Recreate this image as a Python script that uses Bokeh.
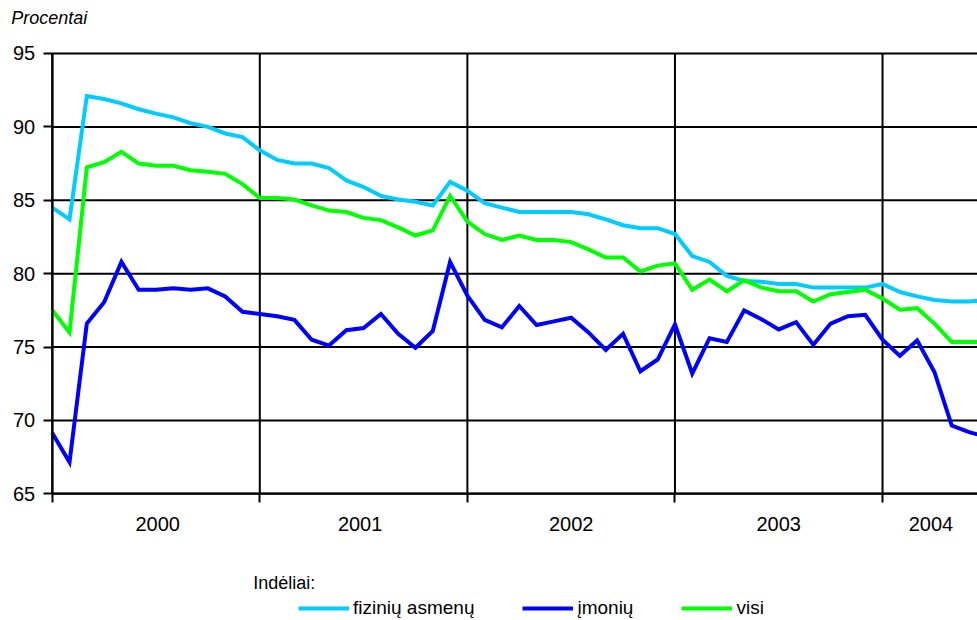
from bokeh.plotting import figure
from bokeh.models import Range1d, FixedTicker, Legend, LegendItem, Label
from bokeh.embed import file_html
from bokeh.resources import INLINE

# ---- data (monthly index) ----
fiziniu_asmenu = [84.5, 83.7, 92.1, 91.9, 91.6, 91.2, 90.9, 90.65, 90.25, 90.0, 89.55, 89.3,
                  88.4, 87.75, 87.5, 87.5, 87.2, 86.35, 85.9, 85.3, 85.05, 84.9, 84.65, 86.25,
                  85.65, 84.8, 84.5, 84.2, 84.2, 84.2, 84.2, 84.05, 83.7, 83.3, 83.1, 83.1,
                  82.7, 81.2, 80.8, 79.85, 79.5, 79.45, 79.3, 79.3, 79.05, 79.05, 79.05, 79.05,
                  79.3, 78.75, 78.45, 78.2, 78.1, 78.1, 78.2]
imoniu = [69.15, 67.15, 76.6, 78.05, 80.8, 78.9, 78.9, 79.0, 78.9, 79.0, 78.45, 77.4,
          77.25, 77.1, 76.85, 75.5, 75.1, 76.15, 76.3, 77.25, 75.9, 74.95, 76.1, 80.8,
          78.5, 76.85, 76.35, 77.8, 76.5, 76.75, 77.0, 76.0, 74.8, 75.9, 73.35, 74.15,
          76.55, 73.2, 75.6, 75.35, 77.5, 76.9, 76.2, 76.7, 75.15, 76.6, 77.1, 77.2,
          75.5, 74.4, 75.45, 73.3, 69.65, 69.2, 68.9]
visi = [77.5, 76.0, 87.25, 87.6, 88.3, 87.5, 87.35, 87.35, 87.05, 86.95, 86.8, 86.1,
        85.15, 85.15, 85.05, 84.65, 84.3, 84.2, 83.8, 83.65, 83.15, 82.6, 82.95, 85.3,
        83.55, 82.7, 82.3, 82.6, 82.3, 82.3, 82.15, 81.65, 81.1, 81.1, 80.15, 80.55,
        80.7, 78.9, 79.6, 78.8, 79.55, 79.05, 78.8, 78.8, 78.1, 78.6, 78.75, 78.9,
        78.3, 77.55, 77.65, 76.6, 75.35, 75.35, 75.35]
months = list(range(len(visi)))

years = ["2000", "2001", "2002", "2003", "2004"]
year_starts = [0, 12, 24, 36, 48]
year_label_pos = [6.1, 17.8, 30.0, 42.0, 50.8]
y_ticks = [65, 70, 75, 80, 85, 90, 95]

series_names = ["fizinių asmenų", "įmonių", "visi"]
series_colors = ["#00CCFF", "#0000FF", "#00FF00"]
legend_heading = "Indėliai:"
y_unit = "Procentai"

FONT = "Liberation Sans"

# whole canvas is the plotting frame; axes are pinned inside it
X_START, X_END = -2.99, 53.49
Y_BOTTOM, Y_TOP = 56.37, 98.61
Y_MIN, Y_MAX = y_ticks[0], y_ticks[-1]

p = figure(width=977, height=620, output_backend="svg", toolbar_location=None,
           x_range=Range1d(X_START, X_END), y_range=Range1d(Y_BOTTOM, Y_TOP),
           min_border=0, min_border_left=0, min_border_right=0,
           min_border_top=0, min_border_bottom=0)
p.outline_line_color = None
p.background_fill_color = "white"
p.border_fill_color = "white"
p.xgrid.visible = False
p.ygrid.visible = False

# grid lines limited to the chart area
p.segment(x0=[year_starts[0]] * len(y_ticks), x1=[X_END] * len(y_ticks), y0=y_ticks, y1=y_ticks,
          line_color="black", line_width=2)
p.segment(x0=year_starts, x1=year_starts, y0=[Y_MIN] * len(year_starts), y1=[Y_MAX] * len(year_starts),
          line_color="black", line_width=2)

# x axis pinned at 65
ax = p.xaxis[0]
ax.fixed_location = Y_MIN
ax.bounds = (year_starts[0], X_END)
ax.ticker = FixedTicker(ticks=year_label_pos, minor_ticks=year_starts)
ax.major_label_overrides = {pos: y for pos, y in zip(year_label_pos, years)}
ax.major_tick_out = 0
ax.major_tick_in = 0
ax.major_tick_line_color = None
ax.minor_tick_out = 9
ax.minor_tick_in = 0
ax.minor_tick_line_color = "black"
ax.minor_tick_line_width = 2
ax.axis_line_color = "black"
ax.axis_line_width = 2
ax.major_label_standoff = 14
ax.major_label_text_font = FONT
ax.major_label_text_font_size = "20px"
ax.major_label_text_color = "black"

# y axis pinned at the first month
yax = p.yaxis[0]
yax.fixed_location = year_starts[0]
yax.bounds = (Y_MIN, Y_MAX)
yax.ticker = FixedTicker(ticks=y_ticks)
yax.major_tick_out = 9
yax.major_tick_in = 0
yax.minor_tick_out = 0
yax.minor_tick_in = 0
yax.axis_line_color = "black"
yax.axis_line_width = 2
yax.major_tick_line_color = "black"
yax.major_tick_line_width = 2
yax.major_label_standoff = 8
yax.major_label_text_font = FONT
yax.major_label_text_font_size = "20px"
yax.major_label_text_color = "black"

renderers = []
for vals, col in zip([fiziniu_asmenu, imoniu, visi], series_colors):
    r = p.line(months, vals, line_color=col, line_width=4, line_join="miter")
    renderers.append(r)

legend = Legend(items=[LegendItem(label=n, renderers=[r]) for n, r in zip(series_names, renderers)],
                orientation="horizontal", location=(298, 1),
                glyph_width=51, glyph_height=20, label_standoff=4, spacing=48,
                padding=0, margin=0, border_line_color=None, background_fill_alpha=0,
                label_text_font=FONT, label_text_font_size="19px", label_text_color="black")
p.add_layout(legend)

p.add_layout(Label(x=11.62, y=58.9, text=legend_heading, text_font=FONT,
                   text_font_size="18px", text_color="black", text_baseline="alphabetic"))
p.add_layout(Label(x=-2.37, y=97.4, text=y_unit, text_font=FONT, text_font_style="italic",
                   text_font_size="18px", text_color="black", text_baseline="alphabetic"))

open("out.html", "w").write(file_html(p, INLINE))
